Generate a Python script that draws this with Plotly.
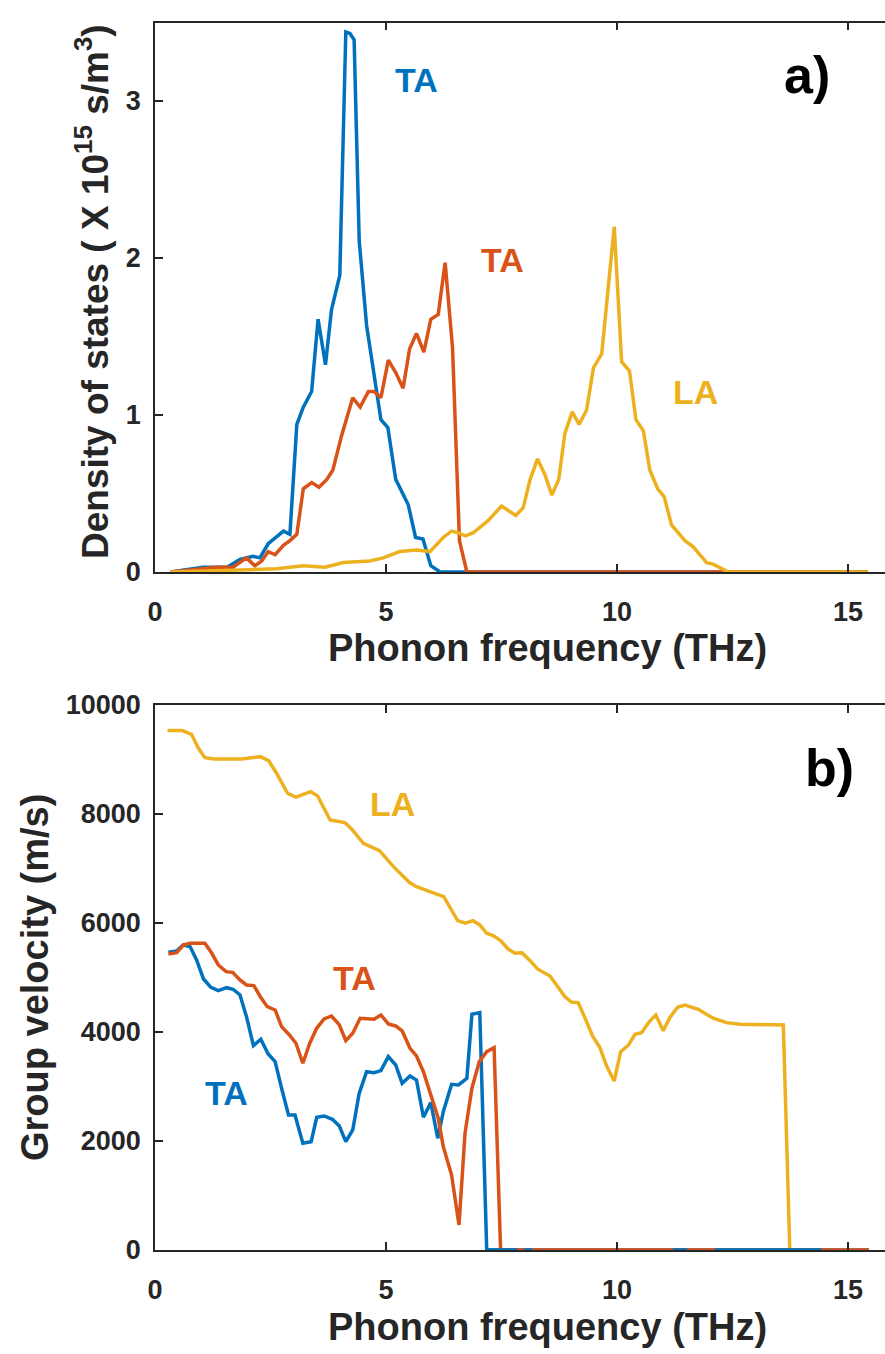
import plotly.graph_objects as go

# ---------------- data ----------------
# a) phonon density of states (x 1e15 s/m^3) vs frequency (THz)
dos_ta1_freq = [0.34, 1.04, 1.56, 1.84, 2.12, 2.27, 2.45, 2.78, 2.92, 3.07, 3.21, 3.39,
                3.53, 3.69, 3.82, 4.00, 4.13, 4.22, 4.31, 4.42, 4.58, 4.89, 5.04, 5.21,
                5.48, 5.64, 5.80, 5.97, 6.17, 15.43]
dos_ta1 = [0.0, 0.03, 0.03, 0.08, 0.10, 0.09, 0.18, 0.26, 0.24, 0.94, 1.05, 1.15,
           1.61, 1.32, 1.67, 1.89, 3.44, 3.43, 3.39, 2.11, 1.57, 0.97, 0.92, 0.59,
           0.43, 0.22, 0.21, 0.04, 0.0, 0.0]

dos_ta2_freq = [0.34, 1.33, 1.69, 1.98, 2.16, 2.31, 2.45, 2.60, 2.78, 2.92, 3.07, 3.21,
                3.39, 3.55, 3.72, 3.85, 4.04, 4.28, 4.44, 4.62, 4.74, 4.89, 5.05, 5.21,
                5.37, 5.51, 5.66, 5.82, 5.97, 6.13, 6.28, 6.44, 6.59, 6.75, 15.43]
dos_ta2 = [0.0, 0.03, 0.03, 0.09, 0.04, 0.07, 0.13, 0.11, 0.17, 0.20, 0.24, 0.53,
           0.57, 0.54, 0.59, 0.65, 0.87, 1.11, 1.05, 1.15, 1.15, 1.11, 1.35, 1.27,
           1.17, 1.42, 1.52, 1.40, 1.61, 1.64, 1.97, 1.43, 0.20, 0.0, 0.0]

dos_la_freq = [0.34, 1.62, 2.63, 3.21, 3.68, 4.08, 4.65, 4.94, 5.30, 5.66, 5.95, 6.24,
               6.42, 6.55, 6.72, 6.89, 7.07, 7.22, 7.50, 7.65, 7.81, 7.97, 8.12, 8.28,
               8.44, 8.59, 8.74, 8.87, 9.03, 9.18, 9.34, 9.49, 9.67, 9.94, 10.10, 10.27,
               10.41, 10.57, 10.71, 10.88, 11.02, 11.18, 11.47, 11.65, 11.94, 12.08,
               12.41, 15.43]
dos_la = [0.0, 0.01, 0.02, 0.04, 0.03, 0.06, 0.07, 0.09, 0.13, 0.14, 0.13, 0.22,
          0.26, 0.25, 0.23, 0.25, 0.29, 0.33, 0.42, 0.39, 0.36, 0.41, 0.59, 0.72,
          0.62, 0.49, 0.59, 0.88, 1.02, 0.94, 1.03, 1.30, 1.39, 2.20, 1.34, 1.28,
          0.97, 0.90, 0.65, 0.53, 0.48, 0.30, 0.20, 0.16, 0.06, 0.05,
          0.0, 0.0]

# b) group velocity (m/s) vs frequency (THz)
vg_ta1_freq = [0.29, 0.47, 0.61, 0.76, 0.90, 1.05, 1.21, 1.37, 1.55, 1.69, 1.84, 1.98,
               2.13, 2.29, 2.45, 2.60, 2.74, 2.89, 3.03, 3.20, 3.38, 3.50, 3.66, 3.84,
               3.99, 4.13, 4.28, 4.42, 4.58, 4.74, 4.89, 5.05, 5.21, 5.35, 5.52, 5.66,
               5.81, 5.97, 6.12, 6.24, 6.42, 6.57, 6.75, 6.86, 7.03, 7.18, 15.45]
vg_ta1 = [5462, 5486, 5596, 5566, 5322, 4973, 4820, 4758, 4813, 4784, 4679, 4282,
          3750, 3867, 3597, 3456, 2968, 2478, 2478, 1958, 1988, 2435, 2459, 2398,
          2275, 1988, 2202, 2875, 3272, 3254, 3291, 3548, 3395, 3059, 3193, 3120,
          2435, 2704, 2050, 2539, 3040, 3028, 3150, 4325, 4355, 0, 0]

vg_ta2_freq = [0.29, 0.47, 0.61, 0.76, 1.08, 1.23, 1.37, 1.54, 1.68, 1.84, 1.98, 2.14,
               2.27, 2.43, 2.60, 2.74, 2.91, 3.05, 3.20, 3.35, 3.50, 3.66, 3.82, 3.99,
               4.13, 4.28, 4.44, 4.60, 4.74, 4.89, 5.05, 5.21, 5.35, 5.52, 5.66, 5.81,
               5.99, 6.13, 6.24, 6.42, 6.58, 6.71, 6.86, 7.02, 7.18, 7.34, 7.48, 15.45]
vg_ta2 = [5432, 5456, 5596, 5627, 5627, 5444, 5230, 5107, 5095, 4954, 4863, 4851,
          4661, 4465, 4404, 4098, 3946, 3793, 3426, 3793, 4068, 4239, 4294, 4129,
          3842, 3977, 4252, 4239, 4233, 4313, 4148, 4111, 4019, 3701, 3560, 3272,
          2784, 2417, 1897, 1376, 459, 2141, 2968, 3456, 3639, 3713, 0, 0]

vg_la_freq = [0.27, 0.59, 0.79, 0.94, 1.08, 1.28, 1.88, 2.28, 2.46, 2.63, 2.87, 3.05,
              3.37, 3.52, 3.79, 4.11, 4.26, 4.51, 4.86, 5.16, 5.51, 5.66, 5.95, 6.25,
              6.55, 6.72, 6.88, 7.03, 7.18, 7.32, 7.48, 7.65, 7.79, 7.94, 8.12, 8.28,
              8.55, 8.70, 8.87, 9.02, 9.16, 9.31, 9.47, 9.63, 9.78, 9.94, 10.08, 10.25,
              10.39, 10.53, 10.70, 10.84, 11.00, 11.15, 11.31, 11.47, 11.76, 12.08,
              12.37, 12.66, 13.60, 13.74]
vg_la = [9530, 9530, 9463, 9206, 9034, 9010, 9010, 9052, 8980, 8748, 8381, 8308,
         8411, 8332, 7891, 7842, 7720, 7463, 7328, 7034, 6741, 6667, 6575, 6484,
         6043, 5995, 6043, 5964, 5811, 5768, 5676, 5518, 5444, 5456, 5309, 5157,
         5028, 4845, 4649, 4545, 4539, 4252, 3927, 3713, 3364, 3101, 3639, 3762,
         3958, 3988, 4190, 4313, 4025, 4270, 4454, 4496, 4417, 4252,
         4172, 4142, 4129, 0]

# stretches of the shared zero level where the first TA branch is drawn uppermost
vg_ta1_zero_spans = [[7.18, 7.84], [7.99, 8.16], [11.21, 11.52], [12.12, 14.42]]

x_ticks = [0, 5, 10, 15]
dos_ticks = [0, 1, 2, 3]
vg_ticks = [0, 2000, 4000, 6000, 8000, 10000]
vg_tick_text = ["0", "2000", "4000", "6000", "8000", "10000"]

# ---------------- styling ----------------
BLUE, RED, YELLOW = "#0072BD", "#D95319", "#EDB120"
INK = "#262626"
FONT = "Liberation Sans, Arial, sans-serif"
W, H = 885, 1354
LW = 3.5


def px_x(p):
    return p / W


def px_y(p):
    return 1 - p / H


fig = go.Figure()


def line(x, y, color, xa, ya):
    fig.add_trace(go.Scatter(x=x, y=y, mode="lines", xaxis=xa, yaxis=ya,
                             line=dict(color=color, width=LW), hoverinfo="skip",
                             showlegend=False))


# panel a
line(dos_ta1_freq, dos_ta1, BLUE, "x", "y")
line(dos_ta2_freq, dos_ta2, RED, "x", "y")
line(dos_la_freq, dos_la, YELLOW, "x", "y")

# panel b
line(vg_la_freq, vg_la, YELLOW, "x2", "y2")
line(vg_ta1_freq, vg_ta1, BLUE, "x2", "y2")
line(vg_ta2_freq, vg_ta2, RED, "x2", "y2")
for a, b in vg_ta1_zero_spans:
    line([a, b], [0, 0], BLUE, "x2", "y2")

x_dom = [px_x(155), 1.0]
x_range = [0, (W - 155) / 46.2]

axis_common = dict(showgrid=False, zeroline=False, showline=True, linecolor=INK,
                   linewidth=1.5, ticks="inside", ticklen=8, tickwidth=1.5,
                   tickcolor=INK, automargin=False,
                   tickfont=dict(family=FONT, size=27, color=INK, weight="bold"))

fig.update_layout(
    width=W, height=H, margin=dict(l=0, r=0, t=0, b=0),
    paper_bgcolor="white", plot_bgcolor="white",
    xaxis=dict(domain=x_dom, range=x_range, anchor="y", tickvals=x_ticks,
               mirror="ticks", ticklabelstandoff=15, **axis_common),
    yaxis=dict(domain=[px_y(572), px_y(22.5)], range=[0, 3.5], anchor="x",
               tickvals=dos_ticks, ticklabelstandoff=7, **axis_common),
    xaxis2=dict(domain=x_dom, range=x_range, anchor="y2", tickvals=x_ticks,
                mirror="ticks", ticklabelstandoff=15, **axis_common),
    yaxis2=dict(domain=[px_y(1250), px_y(705)], range=[0, 10000], anchor="x2",
                tickvals=vg_ticks, ticktext=vg_tick_text, ticklabelstandoff=7,
                **axis_common),
)


def text(t, x, y, size, color=INK, angle=0):
    fig.add_annotation(text=t, x=px_x(x), y=px_y(y), xref="paper", yref="paper",
                       xanchor="center", yanchor="middle", showarrow=False,
                       textangle=angle,
                       font=dict(family=FONT, size=size, color=color, weight="bold"))


# axis titles
text("Phonon frequency (THz)", 547, 648, 38)
text("Phonon frequency (THz)", 547, 1327, 38)
text("Density of states ( X 10<sup>15</sup> s/m<sup>3</sup>)", 92, 292, 37, angle=-90)
text("Group velocity (m/s)", 35, 978, 38, angle=-90)

# branch labels and panel tags
text("TA", 416, 80, 34, BLUE)
text("TA", 503, 260, 34, RED)
text("LA", 695, 392, 34, YELLOW)
text("a)", 807, 75, 52, "#000000")
text("LA", 392, 804, 34, YELLOW)
text("TA", 354, 978, 34, RED)
text("TA", 226, 1093, 34, BLUE)
text("b)", 829, 768, 52, "#000000")

fig.write_html("out.html")
